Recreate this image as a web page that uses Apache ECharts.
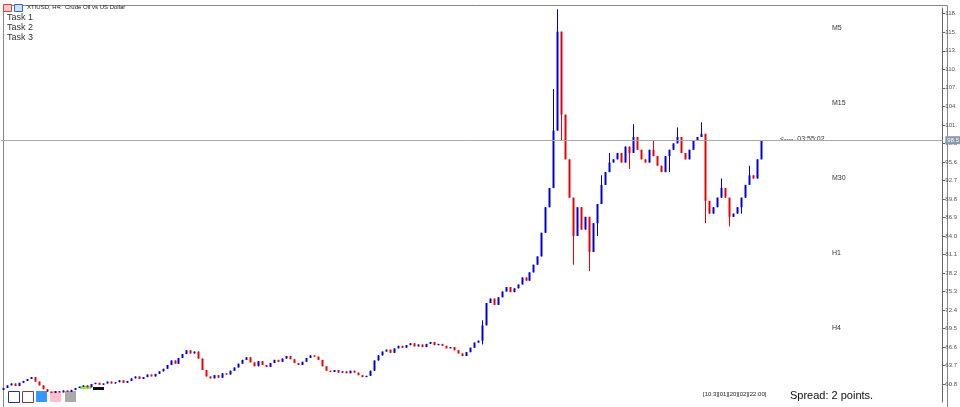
<!DOCTYPE html>
<html><head><meta charset="utf-8">
<script src="https://cdn.jsdelivr.net/npm/echarts@6/dist/echarts.min.js"></script>
<style>html,body{margin:0;padding:0;background:#fff}#c{width:960px;height:407px}</style>
</head><body><div id="c"></div>
<script>
const closes = [
60.2,60.6,60.9,60.5,61.0,61.3,61.6,61.9,61.2,60.6,
60.0,59.6,59.4,59.7,59.5,59.8,59.6,59.9,60.2,60.4,
60.6,60.3,60.8,61.0,60.7,60.9,61.2,60.9,61.1,61.4,
61.0,61.3,61.7,62.0,61.6,61.9,62.3,62.0,62.4,62.8,
63.2,63.8,64.5,64.0,64.9,65.5,66.1,65.6,65.9,64.8,
63.0,62.0,61.7,62.2,61.8,62.5,62.3,62.9,63.4,64.0,
64.6,65.0,64.2,63.6,64.4,63.8,63.5,64.1,64.6,64.3,
64.8,65.2,64.7,64.1,63.8,64.3,64.9,65.3,65.1,64.6,
63.6,62.9,62.7,63.0,62.6,62.8,62.5,62.9,62.6,62.2,
61.9,62.1,62.9,64.5,65.3,65.9,66.2,65.7,66.4,66.8,
66.5,66.9,67.2,66.7,67.0,66.6,67.1,67.4,66.9,67.1,
66.8,66.4,66.6,66.1,65.6,65.2,65.8,66.5,67.3,67.6,
70.0,73.5,74.2,73.2,74.4,75.3,76.0,75.2,75.8,76.4,
77.5,77.0,78.3,79.5,80.8,84.5,88.5,91.5,100.5,116.0,
103.0,96.0,90.0,84.0,88.5,85.0,87.0,81.5,86.0,89.0,
92.0,94.0,95.5,96.0,97.0,95.5,98.0,97.0,99.5,97.5,
96.0,95.5,97.5,96.5,95.0,94.0,96.5,97.5,98.5,99.5,
97.0,96.0,97.5,99.0,99.5,100.0,89.5,87.5,88.5,90.0,
91.5,90.0,87.0,87.5,88.5,90.0,92.0,93.5,93.0,96.0,99.0
];
const wickHighs = {120:70.8, 138:107.0, 139:119.5, 140:111.5, 142:95.0, 150:93.5, 152:97.0, 158:101.5, 163:99.0, 169:101.0, 175:101.8, 180:93.0, 187:95.0};
const wickLows = {120:67.0, 137:88.5, 143:79.5, 147:78.5, 140:99.0, 149:84.0, 157:94.5, 167:94.0, 176:86.0, 182:85.5, 185:87.5};
const tickValues = [60.8,63.7,66.6,69.5,72.4,75.3,78.2,81.1,84.0,86.9,89.8,92.7,95.6,98.5,101.4,104.3,107.2,110.1,113.0,115.9,118.8];
const tickLabels = ['60.8','63.7','66.6','69.5','72.4','75.3','78.2','81.1','84.0','86.9','89.8','92.7','95.6','98.5','101.','104.','107.','110.','113.','115.','118.'];
const timeframes = ['M5','M15','M30','H1','H4'];
const taskNames = ['Task 1','Task 2','Task 3'];
const totalSlots = 236;
const UP = '#0000dd', DOWN = '#ee0000';

const cats = [], data = [];
for (let i = 0; i < totalSlots; i++) {
  cats.push(i);
  if (i < closes.length) {
    const o = i === 0 ? closes[0] - 0.3 : closes[i-1], c = closes[i];
    let h = Math.max(o,c), l = Math.min(o,c);
    if (wickHighs[i] !== undefined) h = Math.max(h, wickHighs[i]);
    if (wickLows[i] !== undefined) l = Math.min(l, wickLows[i]);
    data.push([i,o,c,l,h]);
  }
}
const last = closes[closes.length-1];
const chart = echarts.init(document.getElementById('c'));
const graphics = [
  {type:'rect',left:1,top:3,shape:{width:944,height:402},style:{fill:'none',stroke:'#888',lineWidth:1},silent:true},
  {type:'rect',left:3,top:4,shape:{width:8,height:7},style:{fill:'#f6c9c9',stroke:'#c44'}},
  {type:'rect',left:14,top:4,shape:{width:8,height:7},style:{fill:'#cfe0ff',stroke:'#36c'}},
  {type:'text',left:27,top:4,style:{text:'XTIUSD, H4:  Crude Oil vs US Dollar',font:'6px Arial',fill:'#222'}},
  {type:'text',left:780,top:136,style:{text:'<----  03:55:02',font:'7px Arial',fill:'#333'}},
  {type:'text',left:790,top:390,style:{text:'Spread: 2 points.',font:'11px Arial',fill:'#111'}},
  {type:'text',left:703,top:391,style:{text:'[10:3][01][20][02][22:00]',font:'6px Arial',fill:'#222'}},
  {type:'rect',left:8,top:391,shape:{width:11,height:11},style:{fill:'#fff',stroke:'#223399'}},
  {type:'rect',left:22,top:391,shape:{width:11,height:11},style:{fill:'#fff',stroke:'#993333'}},
  {type:'rect',left:36,top:391,shape:{width:11,height:11},style:{fill:'#3399ff'}},
  {type:'rect',left:50,top:391,shape:{width:11,height:11},style:{fill:'#ffc0cb'}},
  {type:'rect',left:65,top:391,shape:{width:11,height:11},style:{fill:'#aaaaaa'}},
  {type:'rect',left:80,top:386,shape:{width:11,height:3},style:{fill:'#88ee44'}},
  {type:'rect',left:93,top:387,shape:{width:11,height:3},style:{fill:'#111'}}
];
taskNames.forEach((t,i)=>graphics.push({type:'text',left:7,top:13+i*10,style:{text:t,font:'9px Arial',fill:'#333'}}));
timeframes.forEach((t,i)=>graphics.push({type:'text',left:832,top:25+i*75,style:{text:t,font:'7px Arial',fill:'#333'}}));

chart.setOption({
  animation:false,
  grid:{left:1,right:15,top:8,bottom:5},
  xAxis:{type:'category',data:cats,boundaryGap:true,axisLine:{show:false},axisTick:{show:false},axisLabel:{show:false},splitLine:{show:false}},
  yAxis:{type:'value',position:'right',min:58.0,max:119.7,scale:true,
    axisLine:{show:true,lineStyle:{color:'#666'}},
    axisTick:{show:true,length:3,customValues:tickValues,lineStyle:{color:'#666'}},
    axisLabel:{customValues:tickValues,fontSize:6,color:'#555',margin:3,
      formatter:(v)=>{const k=tickValues.findIndex(t=>Math.abs(t-v)<0.01);return k>=0?tickLabels[k]:'';}},
    splitLine:{show:false}},
  graphic:graphics,
  series:[{type:'custom',data:data,encode:{x:0,y:[1,2,3,4]},
    renderItem:(params,api)=>{
      const i=api.value(0),o=api.value(1),c=api.value(2),l=api.value(3),h=api.value(4);
      const col = c>=o?UP:DOWN;
      const top=api.coord([i,Math.max(o,c)]), bot=api.coord([i,Math.min(o,c)]);
      const hi=api.coord([i,h]), lo=api.coord([i,l]);
      const x=Math.round(top[0]);
      return {type:'group',children:[
        {type:'line',shape:{x1:x+0.5,y1:hi[1],x2:x+0.5,y2:lo[1]},style:{stroke:col,lineWidth:1}},
        {type:'rect',shape:{x:x-0.5,y:top[1],width:2,height:Math.max(1,bot[1]-top[1])},style:{fill:col}}
      ]};
    }},
    {type:'line',data:[],markLine:{symbol:'none',silent:true,lineStyle:{color:'#aaa',type:'solid',width:1},
      label:{position:'end',formatter:'98.5',fontSize:6,color:'#fff',backgroundColor:'#8899aa',padding:[1,2],distance:3},
      data:[{yAxis:last}]}}
  ]
});
</script></body></html>
